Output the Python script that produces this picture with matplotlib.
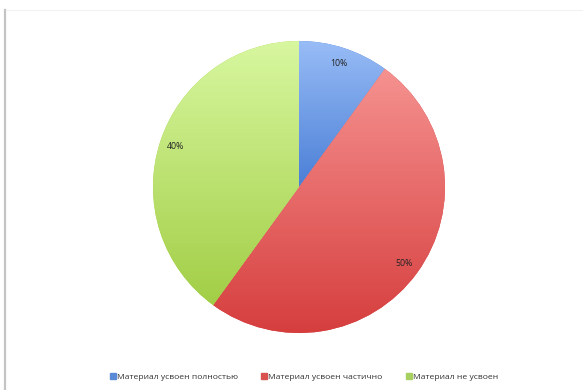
import matplotlib
matplotlib.use("Agg")
import matplotlib.pyplot as plt
import numpy as np
from matplotlib.colors import LinearSegmentedColormap
from matplotlib.lines import Line2D

categories = ["Материал усвоен полностью", "Материал усвоен частично", "Материал не усвоен"]
values = [10, 50, 40]
labels = ["10%", "50%", "40%"]
top_colors = ["#98bcf6", "#f59290", "#d8f7a0"]
bottom_colors = ["#4a7fd6", "#d63e3e", "#a2ce46"]
legend_colors = ["#5a8ad6", "#d9504e", "#a8d060"]

plt.rcParams['font.family'] = ['Open Sans', 'DejaVu Sans']

fig = plt.figure(figsize=(5.83, 3.90), dpi=100)
ax = fig.add_axes([(299 - 146) / 583, (390 - 333) / 390, 292 / 583, 292 / 390])

wedges, texts = ax.pie(values, startangle=90, counterclock=False,
                       colors=bottom_colors, labels=labels, labeldistance=0.89,
                       textprops=dict(fontsize=6.3, color="#222222"),
                       wedgeprops=dict(linewidth=0))
for t in texts:
    t.set_ha("center"); t.set_va("center")

ax.set_xlim(-1, 1); ax.set_ylim(-1, 1)
ax.set_aspect("equal")
ax.axis("off")

fig.canvas.draw()
for w, tc, bc in zip(wedges, top_colors, bottom_colors):
    bb = w.get_path().get_extents(w.get_patch_transform())
    cmap = LinearSegmentedColormap.from_list("g", [bc, tc])
    grad = np.linspace(0, 1, 256).reshape(-1, 1)
    im = ax.imshow(grad, cmap=cmap, origin="lower", aspect="auto",
                   extent=(bb.x0, bb.x1, bb.y0, bb.y1), zorder=1)
    im.set_clip_path(w)
    w.set_zorder(0)
for t in texts:
    t.set_zorder(3)
ax.set_xlim(-1, 1); ax.set_ylim(-1, 1)

handles = [Line2D([0], [0], marker="s", linestyle="", markersize=4,
                  markerfacecolor=c, markeredgecolor=c) for c in legend_colors]
fig.legend(handles, categories, loc="center", bbox_to_anchor=(0.521, 1 - 377 / 390),
           ncol=3, frameon=False, fontsize=6.1, handletextpad=0.1,
           columnspacing=2.7, labelcolor="#333333", handlelength=0.8)

fig.add_artist(Line2D([5 / 583, 5 / 583], [0, 1 - 10 / 390], color="#c4c4c4", linewidth=1.6,
                      transform=fig.transFigure))
fig.add_artist(Line2D([6 / 583, 1], [1 - 10 / 390, 1 - 10 / 390], color="#f2f2f2", linewidth=0.8,
                      transform=fig.transFigure))

fig.savefig("out.png", dpi=100)
